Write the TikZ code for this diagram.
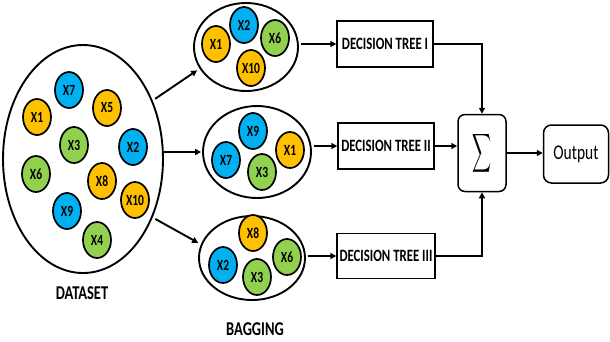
\documentclass[tikz,border=0pt]{standalone}
\usepackage{fontspec}
\setmainfont{Carlito}
\usepackage{graphicx}
\usetikzlibrary{shapes.geometric,arrows.meta,positioning}
\definecolor{orng}{HTML}{FFC000}
\definecolor{skyb}{HTML}{00B0F0}
\definecolor{lgrn}{HTML}{92D050}
\newcommand{\tall}[1]{\scalebox{1}[1.35]{#1}}

\begin{document}
\begin{tikzpicture}[x=1pt,y=-1pt,>={Triangle[length=6pt,width=6pt]},line width=1.9pt,
    ball/.style={ellipse,draw,line width=1.7pt,minimum width=28pt,minimum height=36pt,inner sep=0pt,font=\bfseries\fontsize{11.5}{12}\selectfont},
    ora/.style={ball,fill=orng},
    blu/.style={ball,fill=skyb},
    grn/.style={ball,fill=lgrn},
    bag/.style={ellipse,draw,line width=1.9pt,inner sep=0pt},
    tree/.style={rectangle,draw,line width=1.4pt,minimum width=96pt,minimum height=46pt,inner sep=1pt,font=\bfseries\fontsize{12.8}{14}\selectfont},
    rbox/.style={rectangle,rounded corners=7pt,draw,line width=1.5pt},
    caption/.style={font=\bfseries\fontsize{14.5}{16}\selectfont}]

    \useasboundingbox (0,0) rectangle (610,341);

    % The dataset
    \node [bag,minimum width=160pt,minimum height=228pt] at (83,159) (data) {};
    \node [blu] at (69,90) (d7) {\tall{X7}};
    \node [ora] at (37,117) (d1) {\tall{X1}};
    \node [ora] at (107,108) (d5) {\tall{X5}};
    \node [grn] at (74,145) (d3) {\tall{X3}};
    \node [blu] at (133,147) (d2) {\tall{X2}};
    \node [grn] at (36,174) (d6) {\tall{X6}};
    \node [ora] at (102,181) (d8) {\tall{X8}};
    \node [ora] at (135,200) (d10) {\tall{X10}};
    \node [blu] at (67,211) (d9) {\tall{X9}};
    \node [grn] at (97,240) (d4) {\tall{X4}};
    \node [caption] at (82,293) (datalbl) {\tall{DATASET}};

    % The bags
    \node [bag,minimum width=104pt,minimum height=88pt] at (246,47) (bag1) {};
    \node [ora] at (216,44) (b1x1) {\tall{X1}};
    \node [blu] at (244,25) (b1x2) {\tall{X2}};
    \node [grn] at (275,38) (b1x6) {\tall{X6}};
    \node [ora] at (251,68) (b1x10) {\tall{X10}};

    \node [bag,minimum width=108pt,minimum height=92pt] at (257,152) (bag2) {};
    \node [blu] at (253,131) (b2x9) {\tall{X9}};
    \node [blu] at (226,160) (b2x7) {\tall{X7}};
    \node [grn] at (262,172) (b2x3) {\tall{X3}};
    \node [ora] at (290,150) (b2x1) {\tall{X1}};

    \node [bag,minimum width=106pt,minimum height=84pt] at (252,258) (bag3) {};
    \node [ora] at (253,233) (b3x8) {\tall{X8}};
    \node [blu] at (223,265) (b3x2) {\tall{X2}};
    \node [grn] at (257,277) (b3x3) {\tall{X3}};
    \node [grn] at (287,257) (b3x6) {\tall{X6}};
    \node [caption] at (255,329) (baglbl) {\tall{BAGGING}};

    % The trees
    \node [tree] at (385,44) (tree1) {\tall{DECISION TREE I}};
    \node [tree] at (386,146) (tree2) {\tall{DECISION TREE II}};
    \node [tree,minimum width=98pt,minimum height=45pt] at (386,256) (tree3) {\tall{DECISION TREE III}};

    \node [rbox,minimum width=48pt,minimum height=77pt] at (482,153) (sum) {\scalebox{1.32}[2.7]{$\displaystyle\sum$}};
    \node [rbox,rounded corners=8pt,minimum width=65pt,minimum height=58pt,font=\fontsize{15.5}{16}\selectfont] at (576,154) (out) {\tall{Output}};

    % Bagging edges
    \path[->,shorten <=3pt,shorten >=3pt]
    (data.40) edge (bag1.205)
    (data.-40) edge (bag3.165)
    ;
    \draw[->,shorten >=1pt] (data.east |- bag2.west) -- (bag2.west);

    % Tree edges
    \draw[->,shorten <=2pt] (bag1.east |- tree1.west) -- (tree1.west);
    \draw[->,shorten <=2pt] (bag2.east |- tree2.west) -- (tree2.west);
    \draw[->,shorten <=2pt] (bag3.east |- tree3.west) -- (tree3.west);

    % Voting edges
    \draw[->] (tree1.east) -| (sum.north);
    \draw[->] (tree2.east) -- (tree2.east -| sum.west);
    \draw[->] (tree3.east) -| (sum.south);
    \draw[->] (sum.east) -- (sum.east -| out.west);

\end{tikzpicture}
\end{document}
